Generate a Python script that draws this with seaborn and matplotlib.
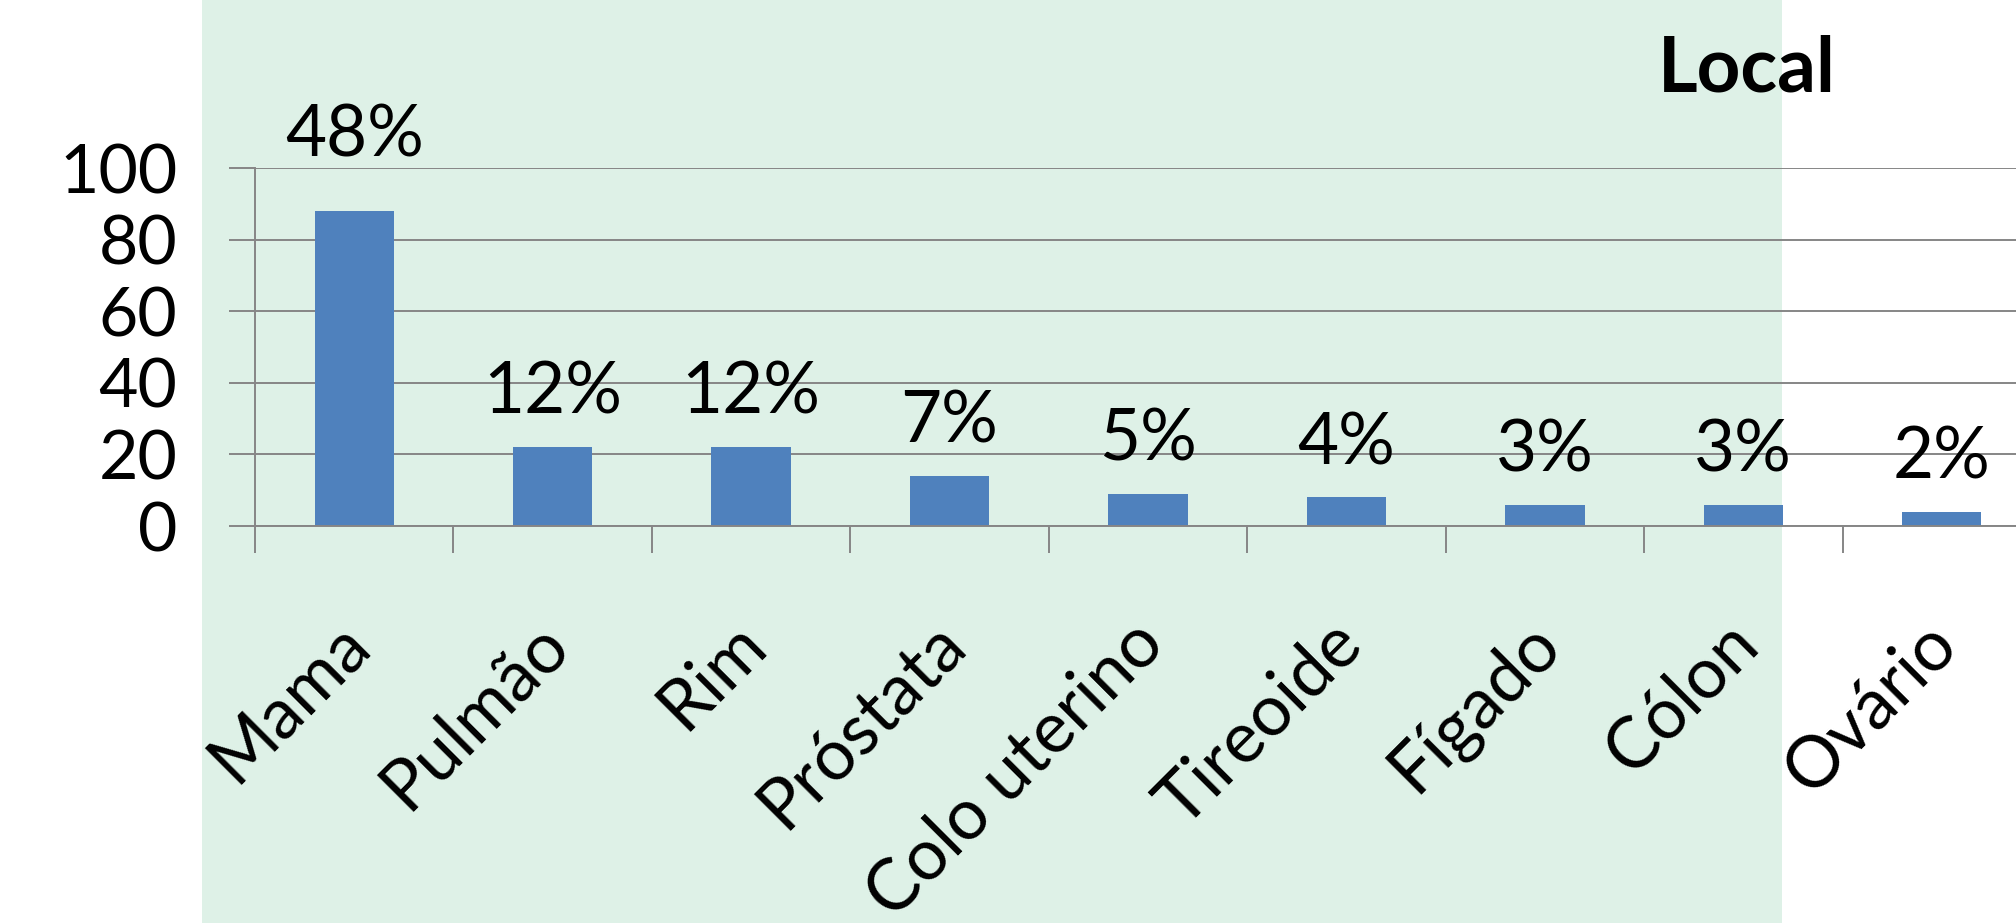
import matplotlib.pyplot as plt
import matplotlib.patches as mpatches
import matplotlib.transforms as mtransforms
import numpy as np
import pandas as pd
import seaborn as sns

# values
categories = ["Mama", "Pulmão", "Rim", "Próstata", "Colo uterino",
              "Tireoide", "Fígado", "Cólon", "Ovário"]
counts = [88, 22, 22, 14, 9, 8, 6, 6, 4]
percent_labels = ["48%", "12%", "12%", "7%", "5%", "4%", "3%", "3%", "2%"]
y_ticks = [0, 20, 40, 60, 80, 100]
title = "Local"

sns.set_style("white")
plt.rcParams["font.family"] = ["Lato", "DejaVu Sans"]
plt.rcParams["text.color"] = "black"
plt.rcParams["xtick.labelcolor"] = "black"
plt.rcParams["ytick.labelcolor"] = "black"

grey = "#868686"
df = pd.DataFrame({"Local": categories, "Casos": counts})

fig = plt.figure(figsize=(20.16, 9.23), dpi=100)
fig.patch.set_facecolor("white")
# pale green slide band behind the chart
fig.patches.append(mpatches.Rectangle((202 / 2016, 0), (1782 - 202) / 2016, 1,
                                      transform=fig.transFigure,
                                      facecolor="#DEF1E7", edgecolor="none",
                                      zorder=-5))

ax = fig.add_axes([255 / 2016, 397 / 923, 1786 / 2016, 358 / 923])
ax.set_facecolor("none")
sns.barplot(data=df, x="Local", y="Casos", color="#4F81BD", width=0.4,
            saturation=1, edgecolor="none", linewidth=0, ax=ax)

ax.set_xlim(-0.5, len(categories) - 0.5)
ax.set_ylim(0, 100)
ax.set_yticks(y_ticks)
ax.yaxis.grid(True, color=grey, linewidth=1.4)
ax.set_axisbelow(True)
for side in ["top", "right"]:
    ax.spines[side].set_visible(False)
for side in ["left", "bottom"]:
    ax.spines[side].set_color(grey)
    ax.spines[side].set_linewidth(1.4)

ax.set_xlabel("")
ax.set_ylabel("")
ax.tick_params(axis="y", left=True, length=19, width=1.4, color=grey,
               labelsize=49, pad=37)

# category separators as minor ticks, labels on the centres
ax.set_xticks(np.arange(-0.5, len(categories)), minor=True)
ax.set_xticks(range(len(categories)))
ax.set_xticklabels(categories, rotation=45, ha="right", rotation_mode="anchor")
ax.tick_params(axis="x", which="major", bottom=True, length=0, labelsize=51, pad=60)
ax.tick_params(axis="x", which="minor", bottom=True, length=19.5, width=1.4, color=grey)
shift = mtransforms.ScaledTranslation(-19 / 100, 0, fig.dpi_scale_trans)
for lab in ax.get_xticklabels():
    lab.set_transform(lab.get_transform() + shift)

for i, (bar, lab) in enumerate(zip(ax.patches, percent_labels)):
    off = 39 if i == 0 else 24
    ax.annotate(lab, (bar.get_x() + bar.get_width() / 2, bar.get_height()),
                xytext=(0, off), textcoords="offset points",
                ha="center", va="baseline", fontsize=51)

fig.text(1747 / 2016, (923 - 92) / 923, title, ha="center", va="baseline",
         fontsize=55, fontweight="bold")

fig.savefig("out.png", dpi=100)
